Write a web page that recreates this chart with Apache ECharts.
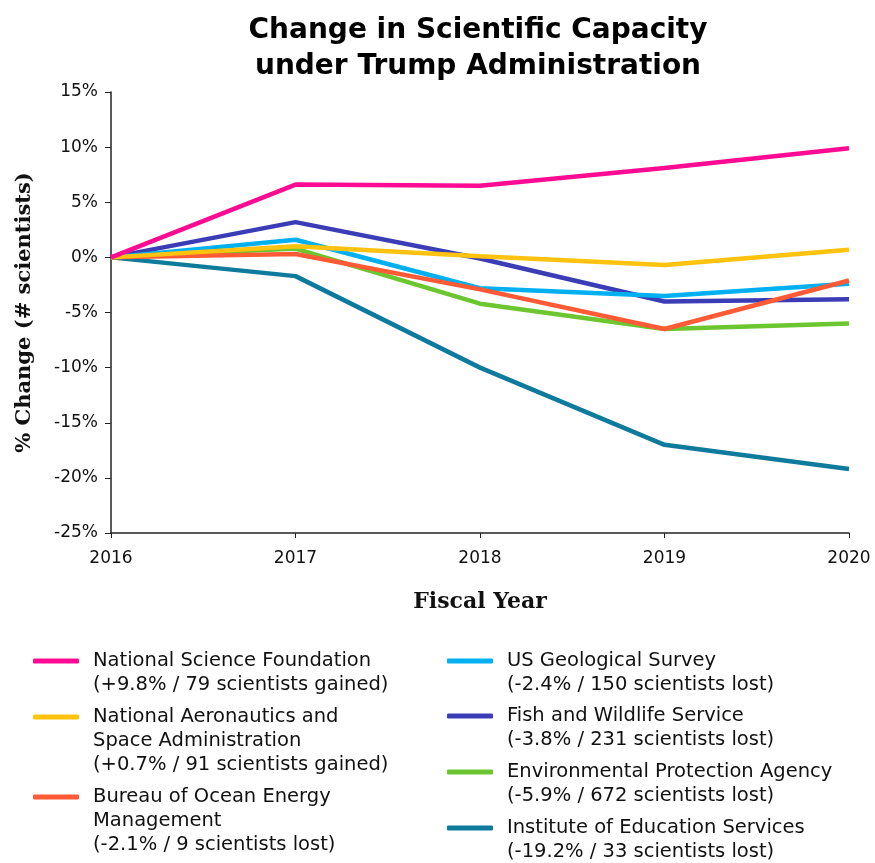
<!DOCTYPE html>
<html><head><meta charset="utf-8">
<script src="https://cdn.jsdelivr.net/npm/echarts@6/dist/echarts.min.js"></script>
<style>html,body{margin:0;padding:0;background:#fff}#c{width:875px;height:863px}</style>
</head><body><div id="c"></div>
<script>
const years = ['2016','2017','2018','2019','2020'];
const nsf  = [0, 6.6, 6.5, 8.1, 9.9];
const nasa = [0, 1.0, 0.1, -0.7, 0.7];
const boem = [0, 0.3, -2.9, -6.5, -2.1];
const usgs = [0, 1.6, -2.8, -3.5, -2.4];
const fws  = [0, 3.2, -0.1, -4.0, -3.8];
const epa  = [0, 0.8, -4.2, -6.5, -6.0];
const ies  = [0, -1.7, -10.0, -17.0, -19.2];
const names = ['National Science Foundation\n(+9.8% / 79 scientists gained)',
  'National Aeronautics and\nSpace Administration\n(+0.7% / 91 scientists gained)',
  'Bureau of Ocean Energy\nManagement\n(-2.1% / 9 scientists lost)',
  'US Geological Survey\n(-2.4% / 150 scientists lost)',
  'Fish and Wildlife Service\n(-3.8% / 231 scientists lost)',
  'Environmental Protection Agency\n(-5.9% / 672 scientists lost)',
  'Institute of Education Services\n(-19.2% / 33 scientists lost)'];
const colors = ['#ff0a93','#ffc20e','#ff5a36','#00b0f0','#3a3db5','#6cc62f','#0e7a9c'];
const values = [nsf, nasa, boem, usgs, fws, epa, ies];

const LH = 24;
const sansFont = 'DejaVu Sans';
const serifFont = 'DejaVu Serif';
// legend placement: [left, iconCenterY]
const legPos = [[33,661],[33,717],[33,797],[447,661],[447,716],[447,772],[447,828]];
const legends = names.map((n,i)=>{
  const lines = n.split('\n').length;
  const boxH = (2*lines-1)*LH;
  return {
    data:[n], left: legPos[i][0], top: legPos[i][1] - boxH/2, padding:0,
    icon:'roundRect', itemWidth:46, itemHeight:5,
    formatter: nm => '\n'.repeat(lines-1) + nm,
    textStyle:{fontFamily:sansFont, fontSize:19.5, color:'#111', lineHeight:LH, padding:[0,0,0,9]},
    selectedMode:false
  };
});

const chart = echarts.init(document.getElementById('c'), null, {renderer:'canvas'});
chart.setOption({
  animation:false,
  title:{text:'Change in Scientific Capacity\nunder Trump Administration', left:473, textAlign:'center', top:8,
    textStyle:{fontFamily:sansFont, fontWeight:'bold', fontSize:28, lineHeight:36, color:'#000'}},
  legend: legends,
  grid:{left:111, right:26, top:92, bottom:330, containLabel:false, outerBoundsMode:'none'},
  xAxis:{type:'category', data:years, boundaryGap:false,
    name:'Fiscal Year', nameLocation:'middle', nameGap:58,
    nameTextStyle:{fontFamily:serifFont, fontWeight:'bold', fontSize:22, color:'#111'},
    axisLine:{onZero:false, lineStyle:{color:'#222', width:1.5}},
    axisTick:{show:true, length:5, lineStyle:{color:'#222'}},
    axisLabel:{fontFamily:sansFont, fontSize:17, color:'#111', margin:17},
    splitLine:{show:false}},
  yAxis:{type:'value', min:-25, max:15, interval:5,
    name:'% Change (# scientists)', nameLocation:'middle', nameGap:76, nameRotate:90,
    nameTextStyle:{fontFamily:serifFont, fontWeight:'bold', fontSize:21, color:'#111'},
    axisLine:{show:true, lineStyle:{color:'#222', width:1.5}},
    axisTick:{show:true, length:6, lineStyle:{color:'#222'}},
    axisLabel:{fontFamily:sansFont, fontSize:17, color:'#111', margin:13, formatter:v=>v+'%'},
    splitLine:{show:false}},
  series: values.map((v,i)=>({type:'line', name:names[i], data:v, symbol:'none',
    lineStyle:{width:4.5, color:colors[i]}, itemStyle:{color:colors[i]}, z: 10-i}))
});
</script></body></html>
